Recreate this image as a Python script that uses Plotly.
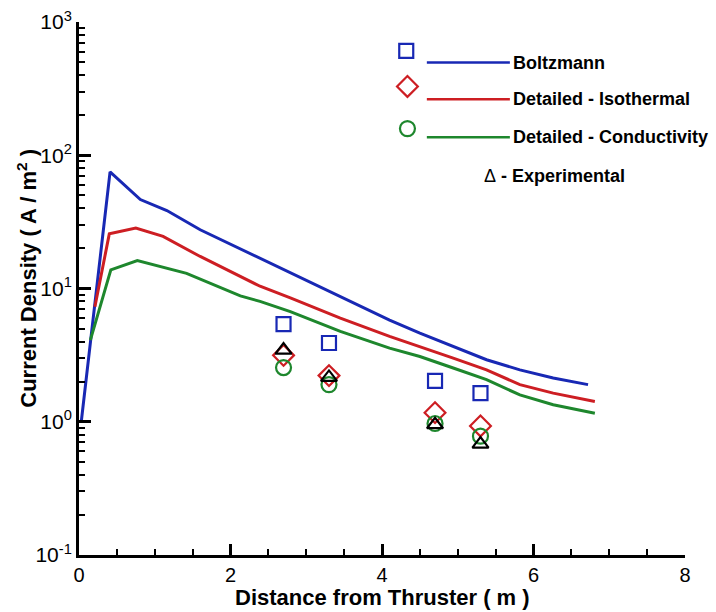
import plotly.graph_objects as go

# ---- data ----
boltz_x = [0.03, 0.41, 0.81, 1.16, 1.60, 2.13, 2.39, 2.79, 3.45, 4.10, 4.50, 4.94, 5.38, 5.82, 6.26, 6.72]
boltz_y = [1.0, 75, 46.5, 38.5, 27.6, 19.8, 16.8, 13.0, 8.7, 5.8, 4.62, 3.67, 2.92, 2.45, 2.13, 1.90]

iso_x = [0.21, 0.40, 0.75, 1.11, 1.60, 2.13, 2.39, 2.79, 3.45, 4.10, 4.50, 4.94, 5.38, 5.82, 6.26, 6.81]
iso_y = [7.3, 25.7, 28.4, 24.6, 17.4, 12.3, 10.4, 8.5, 6.0, 4.37, 3.67, 3.0, 2.45, 1.9, 1.64, 1.42]

cond_x = [0.15, 0.42, 0.77, 1.42, 2.13, 2.39, 2.79, 3.45, 4.10, 4.50, 4.94, 5.38, 5.82, 6.26, 6.81]
cond_y = [4.1, 13.8, 16.2, 13.0, 8.8, 8.0, 6.7, 4.76, 3.57, 3.09, 2.53, 2.07, 1.59, 1.34, 1.16]

pt_x = [2.7, 3.3, 4.7, 5.3]
boltz_pts = [5.4, 3.9, 2.03, 1.64]
iso_pts = [3.15, 2.22, 1.17, 0.93]
cond_pts = [2.55, 1.9, 0.97, 0.78]
exp_pts = [3.45, 2.15, 0.95, 0.68]

y_tickvals = [0.1, 1, 10, 100, 1000]
y_ticktext = ["10<sup>-1</sup>", "10<sup>0</sup>", "10<sup>1</sup>", "10<sup>2</sup>", "10<sup>3</sup>"]

legend_names = ["Boltzmann", "Detailed - Isothermal", "Detailed - Conductivity"]

BLUE = "rgb(24,40,180)"
RED = "rgb(205,30,35)"
GREEN = "rgb(30,135,45)"
colors = [BLUE, RED, GREEN]
symbols = ["square-open", "diamond-open", "circle-open"]

fig = go.Figure()

for xs, ys, c in [(boltz_x, boltz_y, BLUE), (iso_x, iso_y, RED), (cond_x, cond_y, GREEN)]:
    fig.add_trace(go.Scatter(x=xs, y=ys, mode="lines", line=dict(color=c, width=3),
                             showlegend=False))

for ys, sym, c, sz in [(boltz_pts, "square-open", BLUE, 14),
                       (iso_pts, "diamond-open", RED, 16),
                       (cond_pts, "circle-open", GREEN, 15),
                       (exp_pts, "triangle-up-open", "black", 14)]:
    fig.add_trace(go.Scatter(x=pt_x, y=ys, mode="markers",
                             marker=dict(symbol=sym, size=sz, color=c, line=dict(width=2.2, color=c)),
                             showlegend=False))

# ---- custom legend on an overlay axis (fractions of the plot area) ----
leg_marker_x = [0.540, 0.542, 0.542]
leg_marker_y = [0.946, 0.879, 0.800]
leg_line_y = [0.924, 0.855, 0.784]
leg_sizes = [14, 16, 15]
for i in range(3):
    fig.add_trace(go.Scatter(x=[leg_marker_x[i]], y=[leg_marker_y[i]], mode="markers",
                             marker=dict(symbol=symbols[i], size=leg_sizes[i], color=colors[i],
                                         line=dict(width=2.2, color=colors[i])),
                             xaxis="x2", yaxis="y2", showlegend=False))
    fig.add_trace(go.Scatter(x=[0.574, 0.711], y=[leg_line_y[i], leg_line_y[i]], mode="lines",
                             line=dict(color=colors[i], width=2.5),
                             xaxis="x2", yaxis="y2", showlegend=False))
    fig.add_annotation(x=0.713, y=leg_line_y[i], xref="paper", yref="paper", xanchor="left",
                       yanchor="middle", showarrow=False, text="<b>" + legend_names[i] + "</b>",
                       font=dict(family="Liberation Sans", size=18, color="black"))

fig.add_annotation(x=0.665, y=0.712, xref="paper", yref="paper", xanchor="left", yanchor="middle",
                   showarrow=False, text="Δ<b> - Experimental</b>",
                   font=dict(family="Liberation Sans", size=18, color="black"))

# axis titles
fig.add_annotation(x=0.5, y=-0.0795, xref="paper", yref="paper", xanchor="center", yanchor="middle",
                   showarrow=False, text="<b>Distance from Thruster ( m )</b>",
                   font=dict(family="Liberation Sans", size=22, color="black"))
fig.add_annotation(x=-0.086, y=0.52, xref="paper", yref="paper", xanchor="center", yanchor="middle",
                   showarrow=False, textangle=-90, text="<b>Current Density ( A / m<sup>2</sup> )</b>",
                   font=dict(family="Liberation Sans", size=22, color="black"))

fig.update_layout(
    width=716, height=612,
    margin=dict(l=79, r=31, t=22, b=57),
    paper_bgcolor="white", plot_bgcolor="white",
    font=dict(family="Liberation Sans", color="black"),
    xaxis=dict(range=[0, 8], dtick=2, tick0=0, showgrid=False, zeroline=False, automargin=False,
               showline=True, linecolor="black", linewidth=3,
               ticks="inside", ticklen=11, tickwidth=2.5, tickcolor="black",
               minor=dict(dtick=0.5, ticks="inside", ticklen=6, tickwidth=1.5, tickcolor="black"),
               tickfont=dict(size=20)),
    yaxis=dict(type="log", range=[-1, 3], tickmode="array", tickvals=y_tickvals, ticktext=y_ticktext,
               showgrid=False, zeroline=False, showline=True, linecolor="black", linewidth=3,
               automargin=False,
               ticks="inside", ticklen=12, tickwidth=2.5, tickcolor="black",
               minor=dict(dtick="D1", ticks="inside", ticklen=6, tickwidth=1.5, tickcolor="black"),
               tickfont=dict(size=21)),
    xaxis2=dict(overlaying="x", range=[0, 1], visible=False),
    yaxis2=dict(overlaying="y", range=[0, 1], visible=False),
)

fig.write_html("out.html")
